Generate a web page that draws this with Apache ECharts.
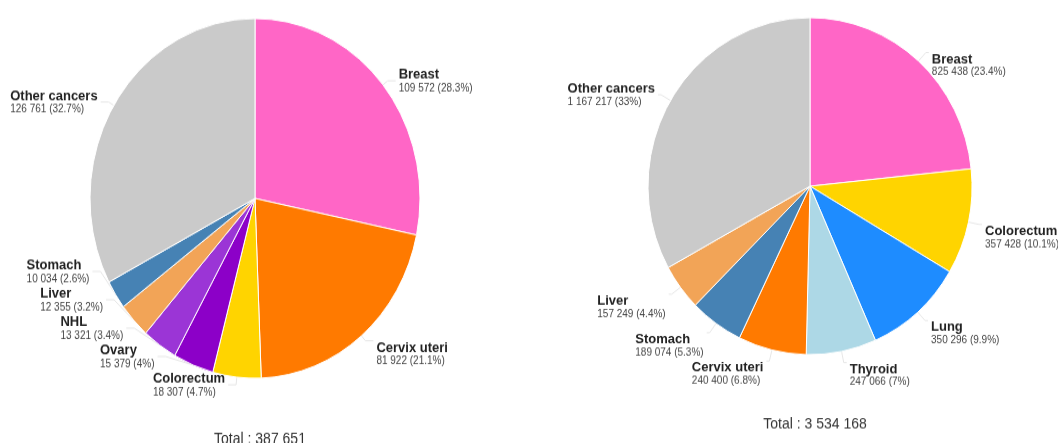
<!DOCTYPE html>
<html>
<head>
<meta charset="utf-8">
<script src="https://cdn.jsdelivr.net/npm/echarts@6/dist/echarts.min.js"></script>
<style>
  html, body { margin: 0; padding: 0; background: #fff; overflow: hidden; }
  #wrap { position: relative; width: 1058px; height: 443px; overflow: hidden; }
  .half { position: absolute; top: 0; transform-origin: 0 0; }
  #left { left: 0; width: 530px; height: 406px; transform: scaleY(1.09); }
  #right { left: 530px; width: 580px; height: 426px; transform: scaleY(1.04); }
</style>
</head>
<body>
<div id="wrap">
  <div id="left" class="half"></div>
  <div id="right" class="half"></div>
</div>
<script>
// Female cancer cases: left panel and right panel
const leftNames = ['Breast', 'Cervix uteri', 'Colorectum', 'Ovary', 'NHL', 'Liver', 'Stomach', 'Other cancers'];
const leftValues = [109572, 81922, 18307, 15379, 13321, 12355, 10034, 126761];
const leftColors = ['#ff66c6', '#ff7a00', '#ffd400', '#8c00c8', '#9b35d6', '#f2a457', '#4682b4', '#cacaca'];

const rightNames = ['Breast', 'Colorectum', 'Lung', 'Thyroid', 'Cervix uteri', 'Stomach', 'Liver', 'Other cancers'];
const rightValues = [825438, 357428, 350296, 247066, 240400, 189074, 157249, 1167217];
const rightColors = ['#ff66c6', '#ffd400', '#1e8cff', '#add8e6', '#ff7a00', '#4682b4', '#f2a457', '#cacaca'];

const FONT = 'Liberation Sans, Arial, sans-serif';

function groupDigits(n) {
  return String(n).replace(/\B(?=(\d{3})+(?!\d))/g, ' ');
}
function sum(arr) { return arr.reduce((a, b) => a + b, 0); }
function pctText(v, total) {
  return (v / total * 100).toFixed(1).replace(/\.0$/, '');
}
// mid angle of every slice, in degrees clockwise from 12 o'clock
function midAngles(values) {
  const total = sum(values);
  let acc = 0;
  return values.map(v => {
    const mid = (acc + v / 2) / total * 360;
    acc += v;
    return mid;
  });
}

// cfg: center, radius, box height for label placement, title top,
// angular range whose labels hang below their leader line, leader line lengths
function buildOption(names, values, colors, cfg) {
  const total = sum(values);
  const mids = midAngles(values);
  return {
    animation: false,
    title: {
      text: 'Total : ' + groupDigits(total),
      left: cfg.center[0],
      top: cfg.totalTop,
      textAlign: 'center',
      textStyle: { fontFamily: FONT, fontSize: 14, fontWeight: 'normal', color: '#333' }
    },
    series: [{
      type: 'pie',
      left: 0,
      top: 0,
      width: '100%',
      height: cfg.boxHeight,
      center: cfg.center,
      radius: cfg.radius,
      startAngle: 90,
      clockwise: true,
      avoidLabelOverlap: true,
      itemStyle: { borderColor: '#ffffff', borderWidth: 1 },
      label: {
        show: true,
        position: 'outside',
        distanceToLabelLine: 3,
        fontFamily: FONT,
        formatter: p => '{n|' + p.name + '}\n{v|' + groupDigits(p.value) + ' (' + pctText(p.value, total) + '%)}',
        rich: {
          n: { fontFamily: FONT, fontWeight: 'bold', fontSize: 13, color: '#222', align: 'left', lineHeight: 14 },
          v: { fontFamily: FONT, fontSize: 10, color: '#444', align: 'left', lineHeight: 11 }
        }
      },
      labelLine: { show: true, length: cfg.len1, length2: cfg.len2, lineStyle: { color: '#e6e6e6', width: 1 } },
      labelLayout: p => {
        const a = mids[p.dataIndex];
        if (a > cfg.hangFrom && a < cfg.hangTo) {
          return { dy: p.labelRect.height / 2 };
        }
        return {};
      },
      emphasis: { disabled: true },
      data: names.map((n, i) => ({ name: n, value: values[i], itemStyle: { color: colors[i] } }))
    }]
  };
}

const leftChart = echarts.init(document.getElementById('left'), null, { renderer: 'canvas' });
leftChart.setOption(buildOption(leftNames, leftValues, leftColors, {
  center: [255, 182], radius: 165, boxHeight: 366, totalTop: 391,
  hangFrom: 95, hangTo: 180, len1: 6, len2: 8
}));

const rightChart = echarts.init(document.getElementById('right'), null, { renderer: 'canvas' });
rightChart.setOption(buildOption(rightNames, rightValues, rightColors, {
  center: [280, 179], radius: 162, boxHeight: 426, totalTop: 396,
  hangFrom: 30, hangTo: 265, len1: 11, len2: 3
}));
</script>
</body>
</html>
